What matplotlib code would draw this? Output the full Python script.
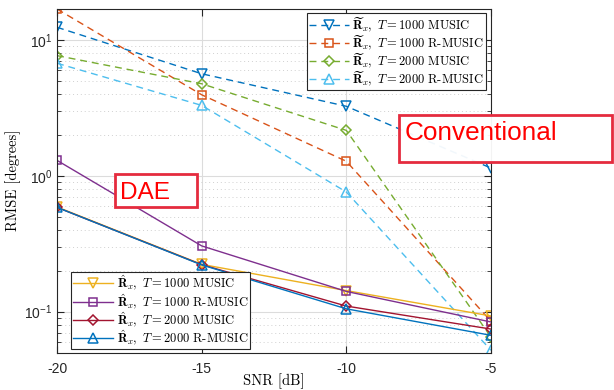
import matplotlib
matplotlib.use("Agg")
import matplotlib.pyplot as plt
from matplotlib.patches import Rectangle

plt.rcParams["mathtext.fontset"] = "cm"
plt.rcParams["axes.unicode_minus"] = False
plt.rcParams["font.family"] = ["Liberation Sans", "DejaVu Sans"]

# data
snr = [-20, -15, -10, -5]

# conventional (sample covariance)
conv_music_1000 = [12.4, 5.64, 3.25, 1.14]
conv_rmusic_1000 = [16.9, 3.95, 1.28, 0.085]
conv_music_2000 = [7.67, 4.76, 2.16, 0.065]
conv_rmusic_2000 = [6.74, 3.30, 0.76, 0.052]

# DAE
dae_music_1000 = [0.59, 0.223, 0.143, 0.093]
dae_rmusic_1000 = [1.30, 0.305, 0.141, 0.084]
dae_music_2000 = [0.586, 0.222, 0.110, 0.0745]
dae_rmusic_2000 = [0.586, 0.221, 0.105, 0.067]

xtick_labels = ["-20", "-15", "-10", "-5"]

conv_lbl = r"$\widetilde{\mathbf{R}}_x,\ T = %d$ %s"
dae_lbl = r"$\hat{\mathbf{R}}_x,\ T = %d$ %s"

fig = plt.figure(figsize=(6.14, 3.9), dpi=100)
ax = fig.add_axes([57 / 614, 1 - 352.6 / 390, 434 / 614, 343.6 / 390])

mk = dict(markerfacecolor="none", markersize=6.5, markeredgewidth=1.1, linewidth=1.0)
mkd = dict(markerfacecolor="none", markersize=5.5, markeredgewidth=1.1, linewidth=1.0)
dash = (0, (5, 3.5))

l1, = ax.plot(snr, conv_music_1000, linestyle=dash, marker="v", color="#0072BD", **mk,
              label=conv_lbl % (1000, "MUSIC"))
l2, = ax.plot(snr, conv_rmusic_1000, linestyle=dash, marker="s", color="#D95319", **mkd,
              label=conv_lbl % (1000, "R-MUSIC"))
l3, = ax.plot(snr, conv_music_2000, linestyle=dash, marker="D", color="#77AC30", **mkd,
              label=conv_lbl % (2000, "MUSIC"))
l4, = ax.plot(snr, conv_rmusic_2000, linestyle=dash, marker="^", color="#4DBEEE", **mk,
              label=conv_lbl % (2000, "R-MUSIC"))

d1, = ax.plot(snr, dae_music_1000, linestyle="-", marker="v", color="#EDB120", **mk,
              label=dae_lbl % (1000, "MUSIC"))
d2, = ax.plot(snr, dae_rmusic_1000, linestyle="-", marker="s", color="#7E2F8E", **mkd,
              label=dae_lbl % (1000, "R-MUSIC"))
d3, = ax.plot(snr, dae_music_2000, linestyle="-", marker="D", color="#A2142F", **mkd,
              label=dae_lbl % (2000, "MUSIC"))
d4, = ax.plot(snr, dae_rmusic_2000, linestyle="-", marker="^", color="#0072BD", **mk,
              label=dae_lbl % (2000, "R-MUSIC"))

ax.set_yscale("log")
ax.set_xlim(-20, -5)
ax.set_ylim(0.05, 16.9)
ax.set_xticks(snr)
ax.set_xticklabels(xtick_labels)

ax.grid(True, which="major", color="#dcdcdc", linewidth=0.8, linestyle="-")
ax.grid(True, which="minor", axis="y", color="#d0d0d0", linewidth=0.7, linestyle=(0, (1, 3)))
ax.set_axisbelow(True)
ax.tick_params(which="both", direction="in", top=True, right=True, labelsize=10,
               colors="#262626")
ax.tick_params(which="major", length=5)
ax.tick_params(which="minor", length=3)
ax.tick_params(axis="x", pad=7)
for s in ax.spines.values():
    s.set_color("#262626")
    s.set_linewidth(0.8)

ax.set_xlabel("SNR [dB]", fontname="cmr10", fontsize=10.5, va="center")
ax.xaxis.set_label_coords(0.5, -(381 - 352.6) / 343.6)
ax.set_ylabel("RMSE [degrees]", fontname="cmr10", fontsize=10.5, va="center")
ax.yaxis.set_label_coords(-(57 - 13) / 434, 0.5)

leg_prop = {"family": "cmr10", "size": 9}
leg_kw = dict(prop=leg_prop, bbox_transform=fig.transFigure, borderaxespad=0,
              fancybox=False, framealpha=1, edgecolor="#262626", handlelength=3.2,
              handletextpad=0.3, labelspacing=-0.05, borderpad=0.15)
leg1 = ax.legend(handles=[l1, l2, l3, l4], loc="upper right",
                 bbox_to_anchor=(486 / 614, 1 - 13 / 390), **leg_kw)
leg1.get_frame().set_linewidth(0.8)
ax.add_artist(leg1)
leg2 = ax.legend(handles=[d1, d2, d3, d4], loc="lower left",
                 bbox_to_anchor=(71 / 614, 1 - 349 / 390), **leg_kw)
leg2.get_frame().set_linewidth(0.8)

# annotation boxes
box_col = "#E52B3E"
fig.patches.append(Rectangle((399 / 614, 1 - 162 / 390), 213 / 614, 47 / 390,
                             transform=fig.transFigure, facecolor="white", alpha=0.95,
                             edgecolor="none", zorder=10))
fig.patches.append(Rectangle((399 / 614, 1 - 162 / 390), 213 / 614, 47 / 390,
                             transform=fig.transFigure, facecolor="none",
                             edgecolor=box_col, linewidth=2.0, zorder=11))
fig.text(405 / 614, 1 - 139.5 / 390, "Conventional", color="#FF0000", fontsize=18.8,
         va="baseline", ha="left", zorder=12)

fig.patches.append(Rectangle((115 / 614, 1 - 207 / 390), 82 / 614, 33 / 390,
                             transform=fig.transFigure, facecolor="white",
                             edgecolor=box_col, linewidth=2.0, zorder=11))
fig.text(120.5 / 614, 1 - 199 / 390, "DAE", color="#FF0000", fontsize=17.6,
         va="baseline", ha="left", zorder=12)

fig.savefig("out.png", dpi=100)
